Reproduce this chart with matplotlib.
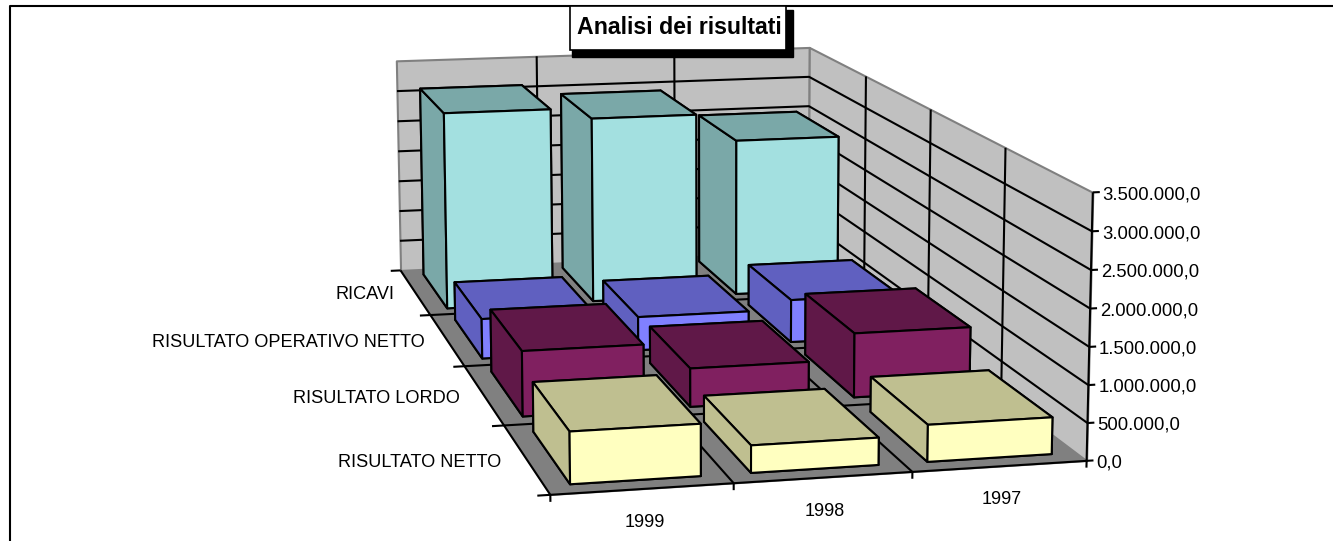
import numpy as np
import matplotlib
matplotlib.use('Agg')
import matplotlib.pyplot as plt
from matplotlib.lines import Line2D
from matplotlib.patches import Rectangle
from mpl_toolkits.mplot3d import proj3d
from mpl_toolkits.mplot3d.art3d import Poly3DCollection

plt.rcParams['font.family'] = ['Liberation Sans', 'DejaVu Sans']

years = ['1999', '1998', '1997']
categories = ['RISULTATO NETTO', 'RISULTATO LORDO', 'RISULTATO OPERATIVO NETTO', 'RICAVI']
risultato_netto = [680000, 360000, 490000]
risultato_lordo = [910000, 540000, 910000]
risultato_operativo = [590000, 500000, 640000]
ricavi = [3090000, 2920000, 2480000]
series = [risultato_netto, risultato_lordo, risultato_operativo, ricavi]
z_ticks = [0, 500000, 1000000, 1500000, 2000000, 2500000, 3000000, 3500000]
z_labels = ['0,0', '500.000,0', '1.000.000,0', '1.500.000,0', '2.000.000,0',
            '2.500.000,0', '3.000.000,0', '3.500.000,0']

front_colors = ['#FFFFC0', '#802060', '#8080FF', '#A3E0E0']
dark_colors = ['#BFBF90', '#601848', '#6060C0', '#7AA8A8']
bx0, bw = 0.14, 0.72
by0, bd = 0.12, 0.76

W, H = 1333, 541
fig = plt.figure(figsize=(W / 100, H / 100), dpi=100)

# camera and axes box fitted once against the corners of the chart box
size, cx, cy = 1063.5, 685.39, 289.95
ax = fig.add_axes([(cx - size / 2) / W, (cy - size / 2) / H, size / W, size / H],
                  projection='3d', computed_zorder=False)
ax.view_init(11.164, -102.8827, 0.0796)
ax.set_proj_type('persp', focal_length=0.5492)
ax.set_box_aspect((1, 1.9971, 0.5013))
ax.set_axis_off()
ax.set_xticks([])
ax.set_yticks([])
ax.set_zticks([])

nx, ny, zmax = len(years), len(categories), z_ticks[-1]

# floor and walls
floor = [[(0, 0, 0), (nx, 0, 0), (nx, ny, 0), (0, ny, 0)]]
back = [[(0, ny, 0), (nx, ny, 0), (nx, ny, zmax), (0, ny, zmax)]]
right = [[(nx, 0, 0), (nx, ny, 0), (nx, ny, zmax), (nx, 0, zmax)]]
ax.add_collection3d(Poly3DCollection(floor, facecolors='#808080', edgecolors='#808080', zorder=1))
ax.add_collection3d(Poly3DCollection(back, facecolors='#C0C0C0', edgecolors='#808080', linewidths=1.5, zorder=1))
ax.add_collection3d(Poly3DCollection(right, facecolors='#C0C0C0', edgecolors='#808080', linewidths=1.5, zorder=1))

line = dict(color='k', lw=1.5, zorder=2, solid_capstyle='butt')
for z in z_ticks[1:-1]:
    ax.plot([0, nx, nx], [ny, ny, 0], [z, z, z], **line)
for x in range(1, nx):
    ax.plot([x, x, x], [0, ny, ny], [0, 0, zmax], **line)
for y in range(1, ny):
    ax.plot([0, nx, nx], [y, y, y], [0, 0, zmax], **line)

# axes lines and ticks
ax.plot([0, 0, nx], [ny, 0, 0], [0, 0, 0], **line)
ax.plot([nx, nx], [0, 0], [0, zmax], **line)
for x in range(nx + 1):
    ax.plot([x, x], [0, 0], [0, -90000], **line)
for y in range(ny + 1):
    ax.plot([0, -0.07], [y, y], [0, 0], **line)
for z in z_ticks:
    ax.plot([nx, nx + 0.04], [0, 0], [z, z], **line)

# bars, back row first and right to left inside a row
order = 10
for row in range(ny - 1, -1, -1):
    for col in range(nx - 1, -1, -1):
        dark, lite = dark_colors[row], front_colors[row]
        ax.bar3d(col + bx0, row + by0, 0, bw, bd, series[row][col],
                 color=[dark, dark, lite, lite, dark, dark], shade=False,
                 edgecolor='k', linewidth=1.5, zorder=order)
        order += 1

# bar3d autoscales, so the limits come last
ax.set_xlim(0, nx, view_margin=0)
ax.set_ylim(0, ny, view_margin=0)
ax.set_zlim(0, zmax, view_margin=0)


def label3d(x, y, z, name, **kw):
    # plain 2D text at the projected point
    xp, yp, _ = proj3d.proj_transform(x, y, z, ax.get_proj())
    ax.text2D(xp, yp, name, transform=ax.transData, va='center', zorder=100, **kw)


for i, name in enumerate(categories):
    label3d(-0.14, i + 0.5, -30000, name, ha='right', fontsize=13.1)
for i, name in enumerate(years):
    label3d(i + 0.51, 0, -440000, name, ha='center', fontsize=13)
for z, name in zip(z_ticks, z_labels):
    label3d(nx + 0.057, 0, z - 35000, name, ha='left', fontsize=13.3)


def px_rect(x0, y0, x1, y1, **kw):
    return Rectangle((x0 / W, 1 - y1 / H), (x1 - x0) / W, (y1 - y0) / H, transform=fig.transFigure, **kw)


# chart frame and title box
fig.add_artist(Line2D([10 / W, 10 / W, 1], [0, 1 - 6 / H, 1 - 6 / H], color='k', lw=1.5))
fig.add_artist(px_rect(572, 10, 793, 57, facecolor='k', edgecolor='k', zorder=5))
fig.add_artist(px_rect(570, 6, 786, 50, facecolor='w', edgecolor='k', lw=1.2, zorder=6))
fig.text(679 / W, 1 - 27 / H, 'Analisi dei risultati', ha='center', va='center',
         fontsize=16.7, fontweight='bold', zorder=7)

plt.savefig('out.png', dpi=100)
